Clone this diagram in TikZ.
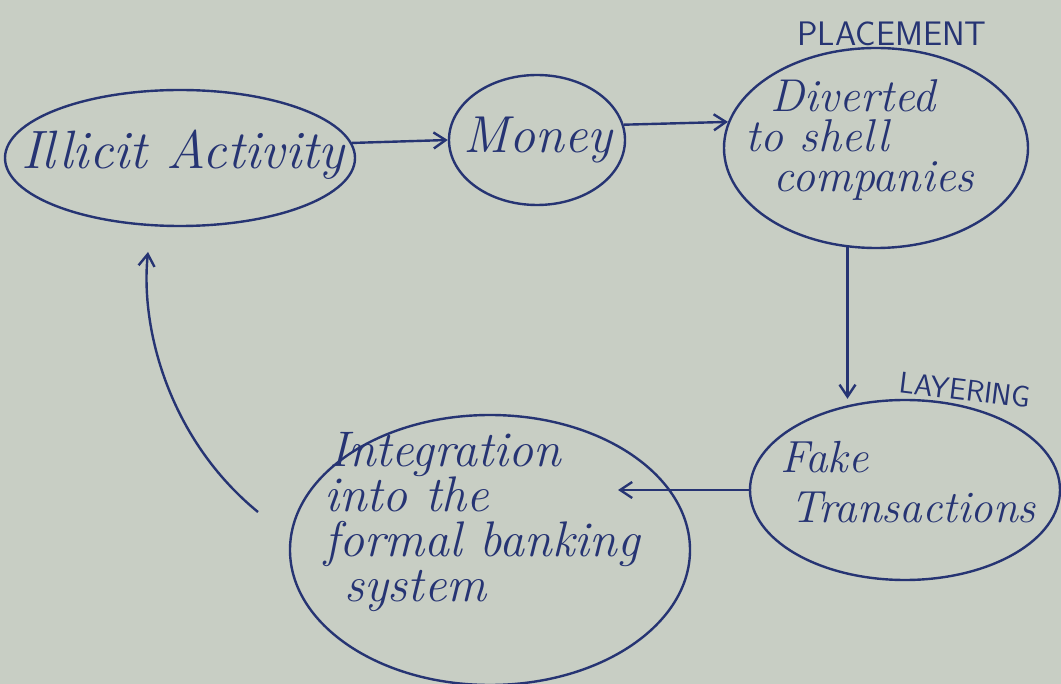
\documentclass[tikz,border=0pt]{standalone}
\usepackage{fontspec}
\usetikzlibrary{shapes.geometric,arrows.meta}
\definecolor{paper}{RGB}{200,206,196}
\definecolor{ink}{RGB}{38,52,115}
\begin{document}
\begin{tikzpicture}[x=1pt,y=-1pt,
  bubble/.style={draw=ink, line width=2.4pt, ellipse, inner sep=0pt},
  words/.style={text=ink, align=left, inner sep=0pt},
  flow/.style={draw=ink, line width=2.4pt, -{Straight Barb[length=12pt,width=16pt,line width=2.4pt]}},
  tag/.style={text=ink, inner sep=0pt, font=\sffamily\fontsize{#1}{#1}\selectfont}]
\fill[paper] (0,0) rectangle (1061,684);
\useasboundingbox (0,0) rectangle (1061,684);
% ellipses
\node[bubble, minimum width=350, minimum height=136] (ill) at (180,158) {};
\node[bubble, minimum width=176, minimum height=130] (money) at (537,140) {};
\node[bubble, minimum width=304, minimum height=200] (div) at (876,148) {};
\node[bubble, minimum width=310, minimum height=180] (fake) at (905,490) {};
\node[bubble, minimum width=400, minimum height=270] (integ) at (490,550) {};
% texts
\node[words, font=\itshape\fontsize{54}{54}\selectfont] (illT) at (183,155) {Illicit Activity};
\node[words, font=\itshape\fontsize{52}{52}\selectfont] (moneyT) at (538,140) {Money};
\node[words, font=\itshape\fontsize{46}{40}\selectfont] (divT) at (860,140) {\hspace*{25pt}Diverted\\to shell\\\hspace*{28pt}companies};
\node[words, font=\itshape\fontsize{45}{50}\selectfont] (fakeT) at (908,482) {Fake\\\hspace*{10pt}Transactions};
\node[words, font=\itshape\fontsize{50}{45}\selectfont] (integT) at (482,522) {\hspace*{5pt}Integration\\into the\\formal banking\\\hspace*{20pt}system};
% stage labels
\node[tag=34] (place) at (892,34) {PLACEMENT};
\node[tag=30, rotate=-7] (layer) at (965,390) {LAYERING};
% connectors
\coordinate (intoInteg) at (618,490);
\coordinate (loopStart) at (258,512);
\coordinate (loopEnd) at (148,252);
\draw[flow] (ill.5) -- (money.west);
\draw[flow] (money.10) -- (div.170);
\draw[flow] (div.254) -- (div.254 |- fake.north);
\draw[flow] (fake.west) -- (intoInteg);
\draw[flow] (loopStart) .. controls (170,440) and (140,330) .. (loopEnd);
\end{tikzpicture}
\end{document}
